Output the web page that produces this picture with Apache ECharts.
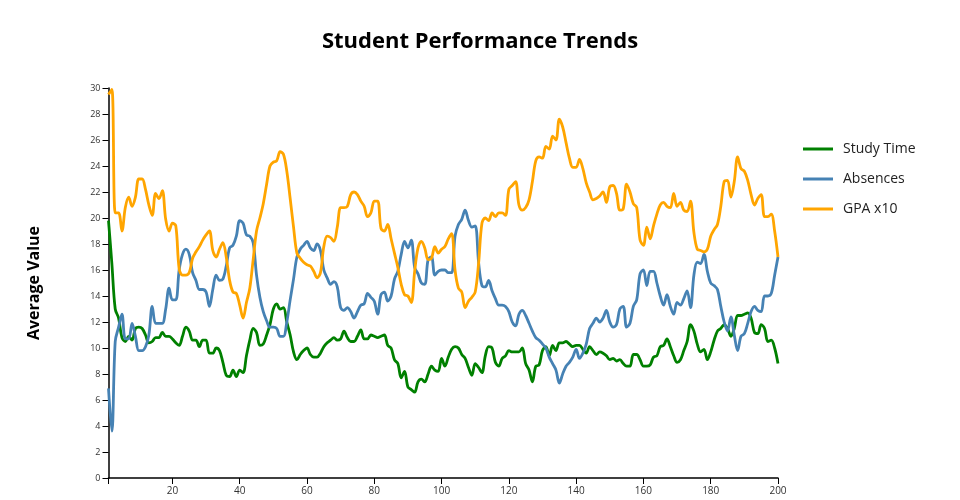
<!DOCTYPE html>
<html>
<head>
<meta charset="utf-8">
<script src="https://cdn.jsdelivr.net/npm/echarts@6/dist/echarts.min.js"></script>
<style>
  html, body { margin: 0; padding: 0; background: #fff; }
  #chart { width: 960px; height: 500px; }
</style>
</head>
<body>
<div id="chart"></div>
<script>
// values, one per x step (x = 1..200)
const studyTime = [
  19.8, 16.5, 13.0, 12.3, 10.8, 10.5, 10.9, 10.6, 11.5, 11.6,
  11.5, 11.0, 10.4, 10.5, 10.8, 10.8, 11.2, 10.9, 10.9, 10.7,
  10.4, 10.2, 10.9, 11.6, 11.3, 10.6, 10.6, 10.1, 10.6, 10.6,
  9.6, 9.6, 10.0, 9.8, 8.9, 7.9, 7.8, 8.3, 7.8, 8.3,
  8.1, 9.4, 10.6, 11.5, 11.2, 10.2, 10.3, 11.0, 11.8, 13.0,
  13.4, 13.0, 13.1, 12.0, 11.0, 9.7, 9.1, 9.5, 9.8, 10.0,
  9.5, 9.3, 9.3, 9.6, 10.1, 10.4, 10.6, 10.8, 10.6, 10.7,
  11.3, 10.8, 10.5, 10.5, 10.9, 11.4, 10.7, 10.7, 11.0, 10.9,
  10.8, 10.9, 11.0, 10.2, 10.0, 9.1, 8.8, 7.7, 8.2, 7.0,
  6.8, 6.6, 7.4, 7.6, 7.4, 8.0, 8.6, 8.3, 8.2, 9.2,
  8.6, 9.3, 9.9, 10.1, 10.0, 9.5, 9.2, 8.5, 7.9, 8.8,
  8.5, 8.1, 9.4, 10.1, 10.0, 8.9, 8.6, 9.2, 9.4, 9.8,
  9.7, 9.7, 9.7, 10.0, 8.8, 8.3, 7.4, 8.6, 8.7, 9.8,
  10.1, 9.4, 10.2, 9.8, 10.4, 10.4, 10.5, 10.3, 10.1, 10.2,
  10.2, 9.9, 9.6, 10.1, 9.8, 9.5, 9.7, 9.6, 9.4, 9.1,
  9.2, 9.0, 9.1, 8.8, 8.6, 8.6, 9.5, 9.5, 9.1, 8.6,
  8.6, 8.7, 9.3, 9.4, 10.1, 10.2, 10.7, 10.1, 9.4, 8.9,
  9.1, 9.8, 10.5, 11.8, 11.3, 10.3, 9.7, 9.9, 9.1, 9.7,
  10.6, 11.3, 11.5, 11.8, 11.5, 10.9, 11.5, 12.5, 12.5, 12.6,
  12.7, 12.3, 11.2, 11.1, 11.8, 11.5, 10.5, 10.6, 10.0, 8.8
];
const absences = [
  6.9, 3.6, 10.5, 11.6, 12.6, 10.7, 10.7, 11.9, 10.9, 9.8,
  9.8, 10.1, 11.0, 13.2, 11.9, 11.9, 11.9, 13.0, 14.6, 13.7,
  13.7, 16.0, 17.2, 17.6, 17.2, 15.8, 15.2, 14.5, 14.5, 14.3,
  13.2, 14.5, 15.6, 15.2, 15.3, 16.3, 17.7, 17.9, 18.6, 19.8,
  19.6, 18.7, 18.6, 18.1, 15.6, 13.9, 12.8, 12.1, 11.6, 11.6,
  11.5, 10.9, 10.9, 12.0, 13.7, 15.3, 17.0, 17.6, 17.9, 18.2,
  17.7, 17.5, 18.0, 17.5, 16.0, 15.4, 14.9, 15.1, 14.7, 13.1,
  12.9, 13.1, 12.8, 12.3, 12.8, 13.3, 13.4, 14.2, 13.9, 13.6,
  12.6, 14.1, 14.3, 13.6, 14.0, 15.3, 15.9, 17.2, 18.2, 17.7,
  18.3, 16.2, 15.7, 15.0, 14.9, 16.8, 17.0, 15.6, 15.9, 16.0,
  16.0, 15.8, 15.8, 18.6, 19.5, 19.9, 20.6, 19.8, 19.3, 19.4,
  16.6, 14.8, 14.7, 15.2, 14.4, 13.8, 13.3, 13.3, 13.2, 12.8,
  12.0, 11.7, 12.6, 12.9, 12.5, 11.9, 11.3, 10.8, 10.6, 10.3,
  10.0, 9.3, 8.8, 8.3, 7.3, 8.0, 8.6, 8.9, 9.3, 9.9,
  9.2, 9.6, 10.3, 11.5, 11.9, 12.3, 12.0, 12.3, 12.9, 12.0,
  11.6, 11.8, 13.0, 13.2, 11.6, 11.9, 13.2, 13.7, 15.7, 16.0,
  14.8, 15.9, 15.9, 15.0, 14.0, 13.3, 14.1, 13.2, 12.6, 13.5,
  13.3, 13.8, 14.4, 13.1, 15.6, 16.6, 16.5, 17.2, 15.9, 15.0,
  14.8, 14.5, 13.2, 12.0, 11.3, 12.4, 11.0, 9.8, 10.9, 11.1,
  11.9, 12.8, 13.2, 12.9, 12.8, 14.0, 14.0, 14.2, 15.6, 17.0
];
const gpaX10 = [
  29.5, 29.9, 20.4, 20.4, 19.0, 20.8, 21.6, 20.9, 21.6, 23.0,
  23.0, 22.2, 21.0, 20.2, 21.9, 21.5, 22.1, 19.9, 19.0, 19.6,
  19.4, 16.1, 15.6, 15.6, 15.8, 16.9, 17.4, 17.8, 18.3, 18.7,
  19.0, 17.5, 17.0, 17.6, 18.1, 17.0, 15.2, 14.3, 14.2, 13.3,
  12.3, 13.5, 14.6, 16.8, 19.0, 20.0, 21.1, 22.6, 24.0, 24.3,
  24.4, 25.1, 24.9, 23.6, 21.5, 19.3, 17.3, 16.9, 16.6, 16.4,
  16.3, 15.9, 15.4, 15.8, 17.8, 18.6, 18.5, 18.2, 19.3, 20.8,
  20.8, 20.9, 21.8, 22.0, 21.8, 21.3, 20.9, 20.1, 20.4, 21.3,
  21.3, 19.2, 19.0, 19.5, 18.4, 17.3, 16.2, 14.9, 14.1, 14.0,
  13.5, 15.9, 17.7, 18.2, 17.7, 16.8, 16.9, 17.8, 17.3, 17.6,
  17.8, 18.4, 18.8, 16.0, 14.6, 14.3, 13.1, 13.6, 13.9, 14.3,
  16.5, 19.6, 20.0, 19.8, 20.4, 20.1, 20.4, 20.4, 20.2, 22.2,
  22.5, 22.8, 21.0, 20.6, 20.8, 21.4, 22.8, 24.4, 24.7, 24.6,
  25.5, 25.3, 26.3, 26.0, 27.6, 27.0, 25.8, 24.6, 23.9, 23.9,
  24.5, 23.8, 22.7, 22.0, 21.4, 21.5, 21.7, 22.0, 21.2, 22.4,
  22.5, 21.9, 20.6, 20.7, 22.6, 22.0, 21.1, 20.8, 18.3, 17.9,
  19.3, 18.4, 19.4, 20.3, 21.0, 21.2, 20.9, 20.8, 21.9, 20.9,
  21.2, 20.6, 20.5, 21.3, 18.9, 17.6, 17.5, 17.4, 17.6, 18.6,
  19.1, 19.5, 20.9, 22.8, 22.9, 21.6, 22.8, 24.7, 23.8, 23.6,
  22.9, 21.8, 21.0, 21.5, 21.8, 20.1, 20.1, 20.3, 19.0, 17.0
];

const seriesNames = ['Study Time', 'Absences', 'GPA x10'];
const seriesColors = ['#008000', '#4682b4', '#ffa500'];
const xLabelTicks = [20, 40, 60, 80, 100, 120, 140, 160, 180, 200];
const xTickMarks = [1, 20, 40, 60, 80, 100, 120, 140, 160, 180, 200];

const FONT = '"Open Sans", sans-serif';

function toPoints(values) {
  return values.map((v, i) => [i + 1, v]);
}

const chart = echarts.init(document.getElementById('chart'));

const option = {
  animation: false,
  backgroundColor: '#fff',
  title: {
    text: 'Student Performance Trends',
    left: 'center',
    top: 26,
    textStyle: { fontFamily: FONT, fontSize: 22, fontWeight: 'bold', color: '#000' }
  },
  legend: {
    orient: 'vertical',
    left: 803,
    top: 141,
    padding: 0,
    icon: 'rect',
    itemWidth: 30,
    itemHeight: 3,
    itemGap: 14,
    textStyle: { fontFamily: FONT, fontSize: 14, color: '#222', lineHeight: 16, padding: [0, 0, 0, 5] },
    data: seriesNames
  },
  grid: { left: 108.5, right: 182, top: 88, bottom: 22 },
  xAxis: {
    type: 'value',
    min: 1,
    max: 200,
    axisLine: { lineStyle: { color: '#000', width: 1.5 } },
    axisTick: { show: true, length: 6, lineStyle: { color: '#000' }, customValues: xTickMarks },
    axisLabel: { fontFamily: FONT, fontSize: 10, color: '#333', margin: 8, customValues: xLabelTicks },
    splitLine: { show: false }
  },
  yAxis: {
    type: 'value',
    min: 0,
    max: 30,
    interval: 2,
    name: 'Average Value',
    nameLocation: 'middle',
    nameRotate: 90,
    nameGap: 66,
    nameTextStyle: { fontFamily: FONT, fontSize: 16, fontWeight: 'bold', color: '#000' },
    axisLine: { show: true, lineStyle: { color: '#000', width: 1.5 } },
    axisTick: { show: true, length: 6, lineStyle: { color: '#000' } },
    axisLabel: { fontFamily: FONT, fontSize: 9, color: '#333', margin: 8 },
    splitLine: { show: false }
  },
  series: [studyTime, absences, gpaX10].map((vals, k) => ({
    name: seriesNames[k],
    type: 'line',
    data: toPoints(vals),
    showSymbol: false,
    symbol: 'none',
    smooth: 0.35,
    color: seriesColors[k],
    lineStyle: { width: 2.8, color: seriesColors[k] }
  }))
};

chart.setOption(option);
</script>
</body>
</html>
